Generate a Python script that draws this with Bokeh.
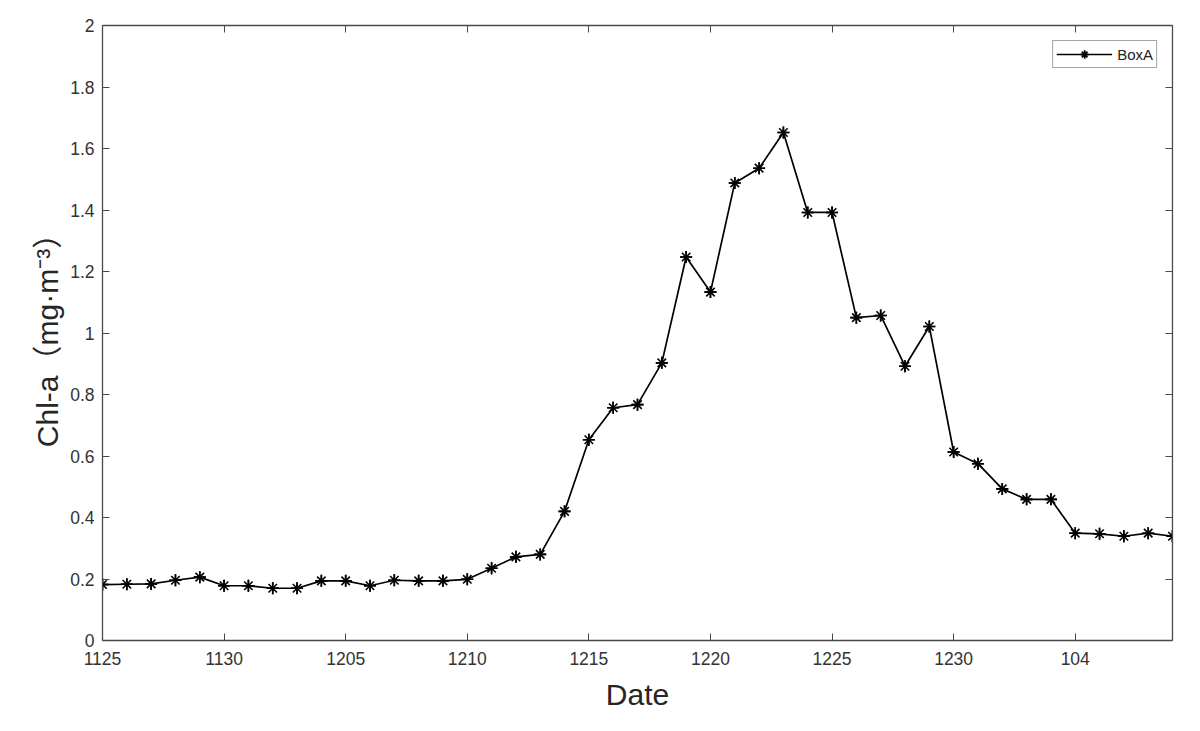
from bokeh.plotting import figure
from bokeh.models import (FixedTicker, LinearAxis, CustomJSTickFormatter,
                          Range1d, Legend, LegendItem)
from bokeh.embed import file_html
from bokeh.resources import INLINE

# 数据：BoxA 叶绿素 a 浓度 (mg·m^-3)
chl_a = [0.182, 0.183, 0.184, 0.196, 0.206, 0.178, 0.178, 0.170, 0.170, 0.194,
         0.194, 0.178, 0.196, 0.194, 0.194, 0.199, 0.235, 0.272, 0.280, 0.420,
         0.653, 0.757, 0.767, 0.903, 1.247, 1.133, 1.488, 1.536, 1.652, 1.392,
         1.392, 1.050, 1.057, 0.892, 1.021, 0.613, 0.575, 0.493, 0.459, 0.459,
         0.349, 0.347, 0.339, 0.349, 0.339]
day_index = list(range(len(chl_a)))

x_tick_pos = [0, 5, 10, 15, 20, 25, 30, 35, 40]
x_tick_labels = ["1125", "1130", "1205", "1210", "1215", "1220", "1225", "1230", "104"]
y_ticks = [0, 0.2, 0.4, 0.6, 0.8, 1.0, 1.2, 1.4, 1.6, 1.8, 2.0]

FONT = "Liberation Sans, Noto Sans CJK SC"
AX = "#4a4a4a"

p = figure(width=1184, height=715, output_backend="svg", toolbar_location=None,
           x_range=Range1d(0, 44), y_range=Range1d(0, 2),
           min_border_left=102, min_border_right=12, min_border_top=25,
           min_border_bottom=75, x_axis_location=None, y_axis_location=None)
p.xgrid.visible = False
p.ygrid.visible = False
p.outline_line_color = None
p.background_fill_color = "white"
p.border_fill_color = "white"

# 坐标轴（MATLAB 风格，刻度朝内，四边框）
xb = LinearAxis(axis_label="Date")
yl = LinearAxis(axis_label="Chl-a（mg·m⁻³）")
xt = LinearAxis()
yr = LinearAxis()
for ax in (xb, xt):
    ax.ticker = FixedTicker(ticks=x_tick_pos)
    ax.major_label_overrides = dict(zip(x_tick_pos, x_tick_labels))
for ax in (yl, yr):
    ax.ticker = FixedTicker(ticks=y_ticks)
    ax.formatter = CustomJSTickFormatter(code="return String(Math.round(tick*10)/10)")
for ax in (xb, yl, xt, yr):
    ax.major_tick_in = 7
    ax.major_tick_out = 0
    ax.minor_tick_line_color = None
    ax.axis_line_color = AX
    ax.major_tick_line_color = AX
    ax.axis_line_width = 1.3
    ax.major_label_text_font = FONT
    ax.major_label_text_font_size = "17.5px"
    ax.major_label_text_color = "#333333"
    ax.axis_label_text_font = FONT
    ax.axis_label_text_font_style = "normal"
    ax.axis_label_text_color = "#262626"
for ax in (xt, yr):
    ax.major_label_text_font_size = "0px"
    ax.major_label_text_color = None
xb.axis_label_text_font_size = "30px"
xb.major_label_standoff = 11
xb.axis_label_standoff = 10
yl.axis_label_text_font_size = "30px"
yl.major_label_standoff = 8
yl.axis_label_standoff = 3

p.add_layout(xb, "below")
p.add_layout(yl, "left")
p.add_layout(xt, "above")
p.add_layout(yr, "right")

ln = p.line(day_index, chl_a, line_color="black", line_width=1.7)
m1 = p.scatter(day_index, chl_a, marker="asterisk", size=12,
               line_color="black", line_width=1.6)
m2 = p.scatter(day_index, chl_a, marker="cross", size=12,
               line_color="black", line_width=1.6)

legend = Legend(items=[LegendItem(label="BoxA", renderers=[ln, m1, m2])],
                location="top_right")
legend.margin = 15
legend.padding = 3
legend.spacing = 0
legend.glyph_width = 56
legend.glyph_height = 20
legend.label_standoff = 5
legend.label_text_font = FONT
legend.label_text_font_size = "15px"
legend.label_text_color = "#222222"
legend.border_line_color = AX
legend.border_line_width = 1.3
legend.background_fill_alpha = 1
p.add_layout(legend, "center")

open("out.html", "w").write(file_html(p, INLINE))
